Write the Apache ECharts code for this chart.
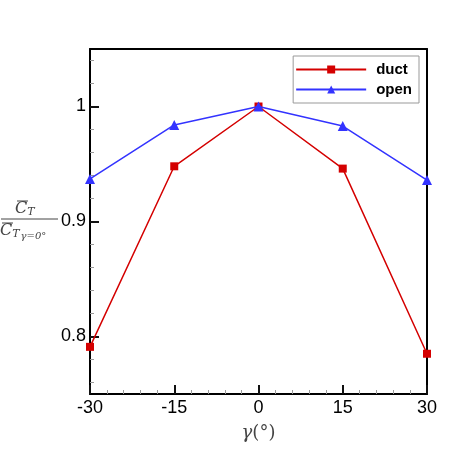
<!DOCTYPE html>
<html>
<head>
<meta charset="utf-8">
<script src="https://cdn.jsdelivr.net/npm/echarts@6/dist/echarts.min.js"></script>
<style>
  html, body { margin: 0; padding: 0; background: #fff; }
  #chart { width: 450px; height: 450px; }
</style>
</head>
<body>
<div id="chart"></div>
<script>
// data
const gammaValues = [-30, -15, 0, 15, 30];
const ductValues = [0.791, 0.948, 1.0, 0.946, 0.785];
const openValues = [0.937, 0.984, 1.0, 0.983, 0.936];
const xTickValues = [-30, -15, 0, 15, 30];
const xMinorValues = [-27, -24, -21, -18, -12, -9, -6, -3, 3, 6, 9, 12, 18, 21, 24, 27];
const yTickValues = [0.8, 0.9, 1.0];
const yMinorValues = [0.76, 0.78, 0.82, 0.84, 0.86, 0.88, 0.92, 0.94, 0.96, 0.98, 1.02, 1.04];

const chart = echarts.init(document.getElementById("chart"));

const labelFont = {
    color: "#000",
    fontSize: 18,
    fontFamily: "Liberation Sans, Arial, sans-serif",
};

const titleRich = {
    c: { fontStyle: "italic", fontSize: 16, fontFamily: "DejaVu Serif, serif", fill: "#444" },
    s: { fontStyle: "italic", fontSize: 11, fontFamily: "DejaVu Serif, serif", fill: "#444", padding: [6, 0, 0, 0] },
    g: { fontStyle: "italic", fontSize: 10, fontFamily: "DejaVu Serif, serif", fill: "#444", padding: [10, 0, 0, 1] },
};

// axis that only draws a frame line
const frameAxis = {
    type: "value",
    axisLine: { show: true, onZero: false, lineStyle: { color: "#000", width: 2 } },
    axisTick: { show: false },
    axisLabel: { show: false },
    splitLine: { show: false },
};

// axis that only draws tick marks
const tickAxis = (values, len, color, width) => ({
    type: "value",
    axisLine: { show: false, onZero: false },
    axisTick: {
        show: true,
        inside: true,
        length: len,
        customValues: values,
        lineStyle: { color: color, width: width },
    },
    axisLabel: { show: false },
    splitLine: { show: false },
});

const option = {
    animation: false,
    grid: {
        left: 90,
        right: 23,
        top: 49,
        bottom: 56,
    },
    legend: {
        orient: "vertical",
        right: 31,
        top: 56,
        padding: [6, 7, 6, 2],
        borderColor: "#999",
        borderWidth: 1,
        itemWidth: 70,
        itemHeight: 10,
        itemGap: 5,
        textStyle: {
            color: "#000",
            fontSize: 15,
            fontWeight: "bold",
            fontFamily: "Liberation Sans, Arial, sans-serif",
            padding: [0, 0, 0, 5],
        },
        data: ["duct", "open"],
    },
    xAxis: [
        {
            type: "value",
            min: -30,
            max: 30,
            position: "bottom",
            name: "{i|γ}(°)",
            nameLocation: "middle",
            nameGap: 30,
            nameTextStyle: {
                color: "#444",
                fontSize: 18,
                fontFamily: "DejaVu Serif, Liberation Serif, serif",
                rich: {
                    i: { fontStyle: "italic", fontSize: 18, color: "#444", fontFamily: "DejaVu Serif, serif" },
                },
            },
            axisLine: { onZero: false, lineStyle: { color: "#000", width: 2 } },
            axisTick: { show: false },
            axisLabel: { ...labelFont, margin: 5, customValues: xTickValues },
            splitLine: { show: false },
        },
        { ...frameAxis, min: -30, max: 30, position: "top" },
        { ...tickAxis(xMinorValues, 4, "#999", 1), min: -30, max: 30, position: "bottom" },
        { ...tickAxis(xTickValues, 9, "#111", 2), min: -30, max: 30, position: "bottom" },
    ],
    yAxis: [
        {
            type: "value",
            min: 0.75,
            max: 1.05,
            position: "left",
            axisLine: { onZero: false, lineStyle: { color: "#000", width: 2 } },
            axisTick: { show: false },
            axisLabel: {
                ...labelFont,
                margin: 4,
                customValues: yTickValues,
                formatter: (v) => (Math.abs(v - 1) < 1e-9 ? "1" : String(v)),
            },
            splitLine: { show: false },
        },
        { ...tickAxis(yMinorValues, 4, "#999", 1), min: 0.75, max: 1.05, position: "left" },
        { ...tickAxis(yTickValues, 9, "#111", 2), min: 0.75, max: 1.05, position: "left" },
        { ...frameAxis, min: 0.75, max: 1.05, position: "right" },
    ],
    graphic: [
        // y axis title: C_T / C_T(gamma=0)
        { type: "line", shape: { x1: 17, y1: 201, x2: 28, y2: 201 }, style: { stroke: "#444", lineWidth: 1 } },
        { type: "text", left: 15, top: 201, style: { text: "{c|C}{s|T}", rich: titleRich } },
        { type: "line", shape: { x1: 1, y1: 219, x2: 58, y2: 219 }, style: { stroke: "#444", lineWidth: 1 } },
        { type: "line", shape: { x1: 2, y1: 223, x2: 13, y2: 223 }, style: { stroke: "#444", lineWidth: 1 } },
        { type: "text", left: 0, top: 223, style: { text: "{c|C}{s|T}{g|γ=0°}", rich: titleRich } },
    ],
    series: [
        {
            name: "duct",
            type: "line",
            xAxisIndex: 0,
            yAxisIndex: 0,
            data: gammaValues.map((g, i) => [g, ductValues[i]]),
            symbol: "rect",
            symbolSize: 8,
            itemStyle: { color: "#d40000" },
            lineStyle: { color: "#d40000", width: 1.5 },
            z: 2,
        },
        {
            name: "open",
            type: "line",
            xAxisIndex: 0,
            yAxisIndex: 0,
            data: gammaValues.map((g, i) => [g, openValues[i]]),
            symbol: "triangle",
            symbolSize: 10,
            itemStyle: { color: "#3333ff" },
            lineStyle: { color: "#3333ff", width: 1.5 },
            z: 3,
        },
    ],
};

chart.setOption(option);
</script>
</body>
</html>
